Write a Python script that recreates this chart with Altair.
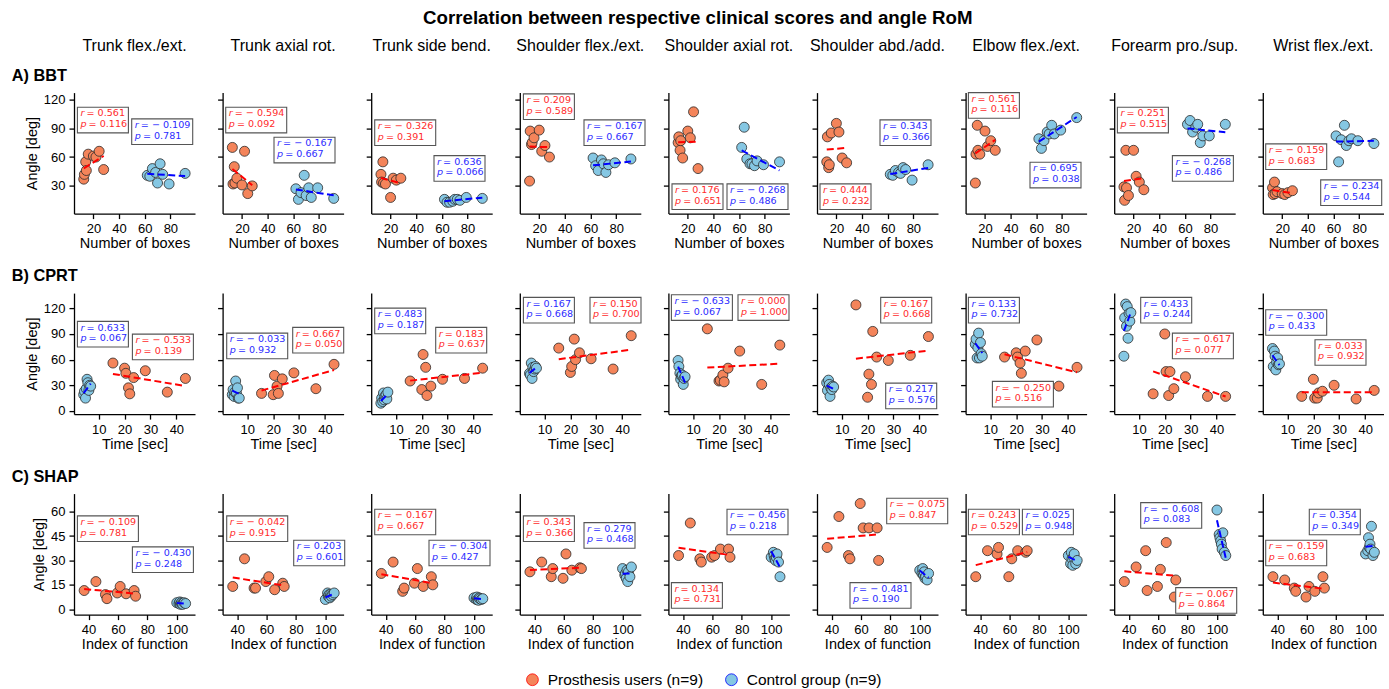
import altair as alt
import pandas as pd

GROUPS = ["Prosthesis users (n=9)", "Control group (n=9)"]
POINT_FILL = ["#f4845a", "#85c7e3"]
FIT_STROKE = ["#ff0000", "#0000ff"]
TEXT_COLOR = ["#ff2b2b", "#2b2bff"]

JOINTS = [
    "Trunk flex./ext.", "Trunk axial rot.", "Trunk side bend.",
    "Shoulder flex./ext.", "Shoulder axial rot.", "Shoulder abd./add.",
    "Elbow flex./ext.", "Forearm pro./sup.", "Wrist flex./ext.",
]
ROWS = ["BBT", "CPRT", "SHAP"]
ROW_LABELS = {"BBT": "A) BBT", "CPRT": "B) CPRT", "SHAP": "C) SHAP"}
X_TITLES = {"BBT": "Number of boxes", "CPRT": "Time [sec]", "SHAP": "Index of function"}

# clinical score of each subject (same for every joint of a row)
bbt_pros = [12.5, 13, 14, 14.5, 16, 20, 22, 24.5, 28]
bbt_ctrl = [62, 64, 66, 68.5, 70, 72, 74, 79, 91.5]
cprt_pros = [15.5, 20, 20.5, 21.5, 22, 23.5, 28, 36.5, 43.5]
cprt_ctrl = [4.2, 4.5, 4.9, 5.2, 5.5, 5.8, 6.2, 6.5, 6.9]
shap_pros = [37, 45, 51.5, 52.5, 59.5, 61.5, 65.5, 71, 72]
shap_ctrl = [100, 101.5, 102, 102.5, 103, 103.5, 104, 105, 106]
X_PROS = {"BBT": bbt_pros, "CPRT": cprt_pros, "SHAP": shap_pros}
X_CTRL = {"BBT": bbt_ctrl, "CPRT": cprt_ctrl, "SHAP": shap_ctrl}

# angle range of motion per joint, same subject order as the scores
bbt_angle_pros = [
    [37, 42, 55, 46, 63, 61, 60, 66, 47],
    [70, 32, 50, 33, 38, 31, 66, 22, 30],
    [42, 34, 55, 33, 32, 18, 38, 36, 38],
    [35, 87, 73, 75, 80, 88, 66, 72, 60],
    [75, 81, 67, 77, 59, 87, 80, 107, 48],
    [55, 81, 49, 52, 85, 95, 86, 59, 54],
    [33, 63, 93, 67, 63, 87, 71, 77, 67],
    [29, 15, 67, 28, 20, 67, 40, 34, 26],
    [28, 21, 34, 22, 24, 22, 21, 23, 25],
]
bbt_angle_ctrl = [
    [41, 40, 48, 44, 33, 53, 42, 32, 43],
    [27, 16, 23, 41, 20, 28, 18, 28, 17],
    [16, 13, 13, 14, 16, 16, 15, 18, 17],
    [59, 51, 46, 57, 53, 44, 52, 54, 58],
    [70, 91, 58, 53, 53, 51, 56, 52, 55],
    [42, 41, 46, 44, 43, 49, 47, 36, 52],
    [79, 69, 77, 86, 84, 93, 84, 88, 101],
    [94, 98, 86, 91, 94, 75, 82, 82, 94],
    [82, 55, 78, 93, 72, 77, 79, 77, 74],
]
cprt_angle_pros = [
    [56, 50, 44, 27, 20, 39, 47, 22, 38],
    [20.5, 19, 41.5, 29, 20.5, 37.5, 44.5, 26, 54.5],
    [35, 25, 66, 51, 18, 29, 37, 38, 50],
    [73.5, 45, 52, 84, 60, 68, 61, 49, 88],
    [96, 35, 36, 42, 34, 50, 70, 31, 77],
    [124, 16, 43, 31, 93, 63, 59, 65, 87],
    [63, 68, 63, 56, 44, 70, 83, 29, 51],
    [20, 90, 46, 18, 46, 26, 40, 17, 17],
    [17, 37, 15, 15, 21, 23, 30, 14, 24],
]
cprt_angle_ctrl = [
    [19, 23, 15, 26, 37, 33, 24, 30, 29],
    [19, 25, 17, 22, 35, 21, 27, 15, 15],
    [9, 15, 11, 21, 13, 17, 19, 14, 22],
    [44, 42, 56, 38, 51, 46, 49, 52, 50],
    [59, 52, 44, 37, 41, 42, 31, 38, 40],
    [33, 24, 36, 31, 17, 27, 25, 29, 28],
    [78, 84, 62, 74, 91, 62, 80, 67, 64],
    [64, 109, 125, 99, 122, 85, 114, 105, 115],
    [73, 52, 70, 64, 48, 57, 62, 54, 55],
]
shap_angle_pros = [
    [11.5, 17, 9, 6.5, 10, 14, 9.5, 11.5, 8],
    [14, 31, 13, 13, 17, 20, 12, 16, 14],
    [22, 29, 11, 13, 16, 25, 14, 20, 15],
    [23, 29, 20, 25, 19, 34, 24, 25.5, 25],
    [33, 53, 31, 29, 32, 33, 37, 37, 32],
    [38, 57, 33, 31, 65, 50, 50, 50, 30],
    [20, 36, 34, 38, 20, 31, 36, 35, 36],
    [17, 26, 36, 11.5, 14, 24.5, 41, 7.5, 18],
    [20, 18, 13, 11, 7.5, 14, 11, 20, 13],
]
shap_angle_ctrl = [
    [4, 3.5, 4.5, 3, 4, 3.5, 3, 4, 3.5],
    [6, 10, 8, 9, 7, 9, 8, 9, 10],
    [7, 6, 7.5, 6, 5.5, 7, 6.5, 6, 6.5],
    [25, 21, 22, 19, 24, 17, 23, 20, 26],
    [32, 35, 33, 31, 30, 32, 34, 29, 20],
    [24, 22, 25, 21, 23, 19, 20, 18, 22],
    [33, 28, 35, 31, 27, 32, 34, 28, 30],
    [61, 46, 44, 42, 40, 37, 47, 35, 33],
    [34, 36, 44, 38, 40, 37, 51, 33, 35],
]
Y_PROS = {"BBT": bbt_angle_pros, "CPRT": cprt_angle_pros, "SHAP": shap_angle_pros}
Y_CTRL = {"BBT": bbt_angle_ctrl, "CPRT": cprt_angle_ctrl, "SHAP": shap_angle_ctrl}

# Spearman correlation and p-value per joint
R_PROS = {
    "BBT": [0.561, -0.594, -0.326, 0.209, 0.176, 0.444, 0.561, 0.251, -0.159],
    "CPRT": [-0.533, 0.667, 0.183, 0.150, 0.000, 0.167, -0.250, -0.617, 0.033],
    "SHAP": [-0.109, -0.042, -0.167, 0.343, 0.134, -0.075, 0.243, -0.067, -0.159],
}
P_PROS = {
    "BBT": [0.116, 0.092, 0.391, 0.589, 0.651, 0.232, 0.116, 0.515, 0.683],
    "CPRT": [0.139, 0.050, 0.637, 0.700, 1.000, 0.668, 0.516, 0.077, 0.932],
    "SHAP": [0.781, 0.915, 0.667, 0.366, 0.731, 0.847, 0.529, 0.864, 0.683],
}
R_CTRL = {
    "BBT": [-0.109, -0.167, 0.636, -0.167, -0.268, 0.343, 0.695, -0.268, -0.234],
    "CPRT": [0.633, -0.033, 0.483, 0.167, -0.633, 0.217, 0.133, 0.433, -0.300],
    "SHAP": [-0.430, 0.203, -0.304, 0.279, -0.456, -0.481, 0.025, -0.608, 0.354],
}
P_CTRL = {
    "BBT": [0.781, 0.667, 0.066, 0.667, 0.486, 0.366, 0.038, 0.486, 0.544],
    "CPRT": [0.067, 0.932, 0.187, 0.668, 0.067, 0.576, 0.732, 0.244, 0.433],
    "SHAP": [0.248, 0.601, 0.427, 0.468, 0.218, 0.190, 0.948, 0.083, 0.349],
}

# axes
X_DOMAIN = {"BBT": (4.9, 99.2), "CPRT": (0.46, 47.2), "SHAP": (30.1, 112.4)}
Y_DOMAIN = {"BBT": (1.2, 127.0), "CPRT": (-3.7, 137.8), "SHAP": (-3.3, 71.1)}
X_TICKS = {"BBT": [20, 40, 60, 80], "CPRT": [10, 20, 30, 40], "SHAP": [40, 60, 80, 100]}
Y_TICKS = {"BBT": [30, 60, 90, 120], "CPRT": [0, 30, 60, 90, 120], "SHAP": [0, 15, 30, 45, 60]}

# layout of a panel (pixels)
PW, PH = 121, 121
COL_GAP, ROW_GAP = 27.6, 79.5
BOX_H = 25.6

# top-left corner of each statistics box inside its plot, in pixels
BOX_PROS = {
    "BBT": [(3.4, 14.7), (3.1, 14.7), (3.5, 27.3), (3.6, 1.3), (3.6, 91.3),
            (3.0, 91.3), (2.8, 0.0), (3.2, 14.7), (2.9, 51.3)],
    "CPRT": [(58.4, 41.0), (70.1, 34.3), (64.5, 34.3), (70.2, 4.3), (69.6, 1.7),
             (63.7, 4.3), (26.8, 88.3), (58.2, 40.0), (52.2, 46.6)],
    "SHAP": [(3.4, 22.3), (4.1, 22.3), (3.5, 15.6), (3.6, 22.3), (3.0, 89.0),
             (69.7, 4.6), (2.8, 15.6), (61.5, 94.0), (2.9, 46.6)],
}
BOX_CTRL = {
    "BBT": [(57.7, 26.3), (51.4, 44.7), (62.8, 63.0), (64.2, 27.3), (58.6, 91.3),
            (63.0, 27.3), (64.4, 69.7), (58.2, 63.0), (57.9, 87.3)],
    "CPRT": [(3.4, 28.3), (4.1, 40.0), (3.5, 15.0), (3.6, 4.3), (3.0, 1.7),
             (68.7, 90.0), (2.8, 4.3), (26.5, 4.3), (2.9, 16.6)],
    "SHAP": [(58.4, 53.3), (71.1, 46.6), (57.8, 46.6), (64.2, 29.0), (58.6, 15.6),
             (33.0, 89.0), (56.8, 15.6), (26.5, 9.0), (46.5, 15.6)],
}

FONT = "Liberation Sans"
STAT_FONT = "DejaVu Sans"

AXIS_STYLE = dict(
    grid=False, domainColor="#000000", domainWidth=1.3, tickColor="#000000",
    tickWidth=1.3, tickSize=5, labelColor="#000000", labelFont=FONT,
    labelFontSize=13, titleFont=FONT, titleFontSize=14.5, titleFontWeight="normal",
    titleColor="#000000", labelPadding=4,
)

LEGEND = alt.Legend(
    title=None, orient="none", legendX=450.7, legendY=579, direction="horizontal",
    symbolType="circle", symbolSize=139, symbolStrokeColor="#2b2b2b",
    symbolStrokeWidth=0.8, symbolOpacity=1, labelFont=FONT, labelFontSize=15.5,
    labelColor="#000000", columnPadding=20, labelOffset=7.5,
)
FILL_SCALE = alt.Scale(domain=GROUPS, range=POINT_FILL)
STROKE_SCALE = alt.Scale(domain=GROUPS, range=FIT_STROKE)


def to_data(row, px, py):
    x0, x1 = X_DOMAIN[row]
    y0, y1 = Y_DOMAIN[row]
    return x0 + px / PW * (x1 - x0), y1 - py / PH * (y1 - y0)


def value_text(v):
    s = f"{abs(v):.3f}"
    return "= \u2212 " + s if v < 0 else "= " + s


def panel(row, j):
    xs = alt.Scale(domain=list(X_DOMAIN[row]), nice=False, zero=False)
    ys = alt.Scale(domain=list(Y_DOMAIN[row]), nice=False, zero=False)
    xaxis = alt.Axis(values=X_TICKS[row], title=X_TITLES[row], titlePadding=1, **AXIS_STYLE)
    if j == 0:
        yaxis = alt.Axis(values=Y_TICKS[row], title="Angle [deg]", titlePadding=4, **AXIS_STYLE)
    else:
        yaxis = alt.Axis(values=Y_TICKS[row], title=None, labels=False, **AXIS_STYLE)

    def X(f):
        return alt.X(f, scale=xs, axis=xaxis)

    def Y(f):
        return alt.Y(f, scale=ys, axis=yaxis)

    pdf = pd.DataFrame({
        "group": [GROUPS[0]] * 9 + [GROUPS[1]] * 9,
        "x": X_PROS[row] + X_CTRL[row],
        "y": Y_PROS[row][j] + Y_CTRL[row][j],
    })

    pts = alt.Chart(pdf).mark_circle(
        size=100, stroke="#2b2b2b", strokeWidth=0.8, opacity=1
    ).encode(
        x=X("x:Q"), y=Y("y:Q"),
        fill=alt.Fill("group:N", scale=FILL_SCALE, legend=LEGEND),
    )

    fit = alt.Chart(pdf).transform_regression(
        "x", "y", groupby=["group"]
    ).mark_line(strokeDash=[7, 3.5], strokeWidth=2).encode(
        x=X("x:Q"), y=Y("y:Q"),
        stroke=alt.Stroke("group:N", scale=STROKE_SCALE, legend=None),
    )

    boxes, syms, vals = [], [], []
    stats = [
        (BOX_PROS[row][j], R_PROS[row][j], P_PROS[row][j], TEXT_COLOR[0]),
        (BOX_CTRL[row][j], R_CTRL[row][j], P_CTRL[row][j], TEXT_COLOR[1]),
    ]
    for (bx, by), r, p, col in stats:
        w = 61 if r < 0 else 51
        x0, y0 = to_data(row, bx, by)
        x1, y1 = to_data(row, bx + w, by + BOX_H)
        boxes.append({"bx": x0, "bx2": x1, "by": y0, "by2": y1})
        for sym, v, dy, sw in (("r", r, 6.2, 3.9), ("p", p, 16.8, 6.0)):
            sx, sy = to_data(row, bx + 3.0, by + dy)
            vx, _ = to_data(row, bx + 3.0 + sw + 2.2, by + dy)
            syms.append({"tx": sx, "ty": sy, "t": sym, "c": col})
            vals.append({"tx": vx, "ty": sy, "t": value_text(v), "c": col})

    box = alt.Chart(pd.DataFrame(boxes)).mark_rect(
        fill="white", stroke="#555555", strokeWidth=1.1
    ).encode(x=X("bx:Q"), x2="bx2:Q", y=Y("by:Q"), y2="by2:Q")

    sym = alt.Chart(pd.DataFrame(syms)).mark_text(
        align="left", baseline="middle", font=STAT_FONT, fontSize=9.6, fontStyle="italic"
    ).encode(x=X("tx:Q"), y=Y("ty:Q"), text="t:N", color=alt.Color("c:N", scale=None))

    val = alt.Chart(pd.DataFrame(vals)).mark_text(
        align="left", baseline="middle", font=STAT_FONT, fontSize=9.6
    ).encode(x=X("tx:Q"), y=Y("ty:Q"), text="t:N", color=alt.Color("c:N", scale=None))

    layers = [pts, fit, box, sym, val]

    if row == "BBT":
        head = alt.Chart(pd.DataFrame({"t": [JOINTS[j]]})).mark_text(
            font=FONT, fontSize=16, align="center", baseline="middle", color="#000000"
        ).encode(text="t:N", x=alt.value(PW / 2), y=alt.value(-47))
        layers.append(head)
    if j == 0:
        lab = alt.Chart(pd.DataFrame({"t": [ROW_LABELS[row]]})).mark_text(
            font=FONT, fontSize=16.3, fontWeight="bold", align="left",
            baseline="middle", color="#000000"
        ).encode(text="t:N", x=alt.value(-62.3), y=alt.value(-17))
        layers.append(lab)

    return alt.layer(*layers).properties(width=PW, height=PH)


panels = [panel(row, j) for row in ROWS for j in range(9)]

chart = alt.concat(
    *panels,
    columns=9,
    spacing={"row": ROW_GAP, "column": COL_GAP},
    bounds="flush",
    title=alt.TitleParams(
        "Correlation between respective clinical scores and angle RoM",
        font=FONT, fontSize=18.7, fontWeight="bold", anchor="middle",
        color="#000000", offset=10,
    ),
).properties(
    padding={"left": 11, "top": 8.6, "right": 0, "bottom": 0},
    background="white",
).configure_view(stroke=None)

chart.save("out.html", embed_options={"renderer": "svg", "actions": False})
